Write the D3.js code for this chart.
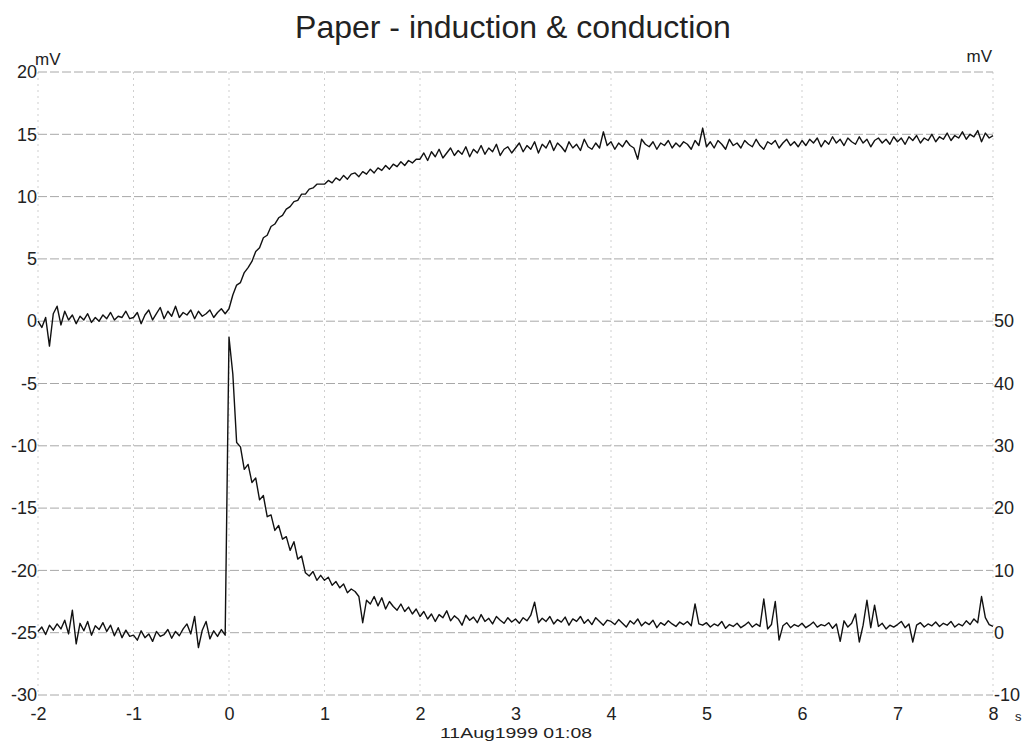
<!DOCTYPE html>
<html>
<head>
<meta charset="utf-8">
<script src="https://cdn.jsdelivr.net/npm/d3@7"></script>
<style>
  body { margin: 0; background: #fff; }
  svg { display: block; font-family: "Liberation Sans", Arial, sans-serif; }
</style>
</head>
<body>
<div id="app"></div>
<script>
const width = 1026;
const height = 745;

const title = "Paper - induction & conduction";
const stamp = "11Aug1999  01:08";

// sampling of the traces
const tStart = -2;
const tStep = 0.04;

const xTicks = [-2, -1, 0, 1, 2, 3, 4, 5, 6, 7, 8];
const leftTicks = [20, 15, 10, 5, 0, -5, -10, -15, -20, -25, -30];
const rightTicks = [50, 40, 30, 20, 10, 0, -10];

// upper trace, left axis (mV), one row per second
const upperTrace = [
  0.0, -0.5, 0.3, -2.0, 0.6, 1.2, -0.3, 0.8, 0.1, 0.5, -0.2, 0.4, 0.1, 0.6, -0.1, 0.3, 0.0, 0.5, 0.2, 0.7, 0.1, 0.4, 0.3, 0.8, 0.2,
  0.3, 0.7, -0.2, 0.5, 0.9, 0.1, 0.6, 1.1, 0.2, 0.8, 0.4, 1.2, 0.3, 0.7, 0.5, 0.9, 0.2, 0.8, 0.4, 0.6, 0.9, 0.3, 0.7, 1.0, 0.6,
  1.0, 2.1, 2.9, 3.1, 3.9, 4.3, 4.8, 5.6, 5.9, 6.7, 6.9, 7.6, 7.8, 8.3, 8.5, 9.0, 9.2, 9.6, 9.7, 10.2, 10.2, 10.6, 10.7, 11.0, 11.0,
  11.0, 11.3, 11.1, 11.5, 11.3, 11.7, 11.4, 11.8, 11.9, 11.6, 12.0, 11.8, 12.2, 11.9, 12.3, 12.1, 12.5, 12.2, 12.6, 12.4, 12.8, 12.5, 12.9, 12.7, 13.0,
  13.0, 13.5, 12.9, 13.6, 13.2, 13.8, 13.1, 13.5, 13.9, 13.3, 13.7, 13.4, 14.0, 13.2, 13.8, 13.5, 14.1, 13.4, 13.9, 13.6, 14.2, 13.3, 13.8, 14.0, 13.5,
  13.9, 14.3, 13.6, 14.1, 13.8, 14.4, 13.5, 14.2, 13.9, 14.5, 13.7, 14.3, 14.0, 13.6, 14.4, 13.9, 14.2, 13.7, 14.6, 14.0, 13.8, 14.3, 13.9, 15.2, 14.1,
  14.4, 13.8, 14.3, 14.0, 14.5, 14.1, 13.9, 13.0, 14.6, 14.2, 14.0, 14.4, 13.8, 14.3, 14.1, 14.5, 13.9, 14.3, 14.0, 14.4, 14.2, 13.8, 14.5, 14.1, 15.5,
  14.0, 14.4, 13.9, 14.5, 14.2, 13.8, 14.6, 14.1, 14.3, 13.9, 14.5, 14.2, 14.0, 14.6, 14.1, 13.8, 14.4, 14.2, 14.5, 13.9, 14.3, 14.6, 14.1, 14.4, 14.0,
  14.5, 14.1, 14.6, 14.3, 14.7, 14.0, 14.5, 14.2, 14.8, 14.3, 14.6, 14.1, 14.7, 14.4, 14.2, 14.8, 14.3, 14.6, 14.0, 14.5, 14.7, 14.3, 14.6, 14.2, 14.8,
  14.4, 14.7, 14.2, 14.8, 14.5, 14.9, 14.3, 14.7, 14.5, 15.0, 14.4, 14.8, 14.6, 15.1, 14.5, 14.9, 14.7, 15.2, 14.6, 15.0, 14.8, 15.3, 14.4, 15.1, 14.7,
  14.9
];

// lower trace, right axis (mV)
const lowerTrace = [
  0.2, 0.9, -0.3, 1.2, 0.4, 1.4, 0.6, 2.0, -0.2, 3.6, -1.8, 1.5, 0.3, 1.8, -0.4, 1.1, 0.5, 1.6, 0.2, 1.2, -0.5, 0.8, -0.8, 0.4, -0.6,
  -0.4, -1.2, 0.3, -0.8, -0.2, -1.4, 0.2, -0.6, -0.3, 0.5, -0.9, 0.2, -0.5, 0.6, 1.4, -0.2, 2.6, -2.4, 0.4, 1.8, -1.0, 0.3, -0.6, 0.5, -0.4,
  47.4, 41.5, 30.5, 29.8, 26.2, 27.0, 24.1, 24.8, 21.3, 22.0, 18.6, 18.9, 16.4, 17.2, 15.0, 15.4, 13.2, 14.6, 11.8, 12.3, 9.6, 9.1, 9.8, 8.4, 9.2,
  8.4, 8.9, 7.6, 8.2, 7.2, 7.8, 6.4, 7.0, 6.6, 5.8, 1.6, 5.2, 4.6, 5.8, 4.3, 5.6, 3.8, 5.0, 4.2, 3.6, 4.6, 3.4, 4.1, 3.0, 3.8,
  2.6, 3.4, 2.2, 3.0, 1.8, 2.9, 2.4, 3.5, 1.9, 2.7, 2.2, 1.2, 2.8, 2.0, 2.5, 1.6, 2.9, 1.8, 2.3, 1.4, 2.6, 2.0, 1.5, 2.4, 1.7,
  2.2, 1.5, 2.4, 1.9, 2.8, 4.9, 1.6, 2.3, 1.8, 2.6, 1.4, 2.1, 1.7, 2.5, 1.2, 2.2, 1.8, 2.6, 1.5, 2.1, 1.3, 2.4, 1.8, 1.2, 2.0,
  1.8, 1.3, 2.1, 1.5, 0.9, 1.9, 1.4, 2.2, 1.1, 1.7, 1.3, 2.0, 0.8, 1.6, 1.2, 1.9, 1.4, 1.0, 1.7, 1.3, 1.8, 1.1, 4.6, 1.4, 1.2,
  1.6, 0.9, 1.4, 1.1, 1.8, 0.7, 1.3, 1.0, 1.5, 0.8, 1.2, 1.7, 0.9, 1.4, 1.0, 5.4, 0.6, 1.3, 5.0, -1.2, 1.1, 1.6, 0.8, 1.3, 1.0,
  1.5, 0.8, 1.2, 1.7, 0.9, 1.3, 1.1, 1.6, 0.7, 1.4, -1.4, 1.9, 0.9, 1.5, 3.0, -1.5, 1.2, 5.2, 0.8, 4.4, 1.0, 1.5, 0.6, 1.2, 0.9,
  1.3, 1.8, 0.8, 1.4, -1.5, 1.2, 1.6, 0.9, 1.4, 1.1, 1.7, 1.0, 1.5, 1.2, 1.8, 0.9, 1.4, 1.1, 1.9, 1.3, 2.2, 1.6, 5.8, 2.4, 1.3,
  1.0
];

const svg = d3.select("#app").append("svg")
  .attr("width", width)
  .attr("height", height);

const x = d3.scaleLinear().domain([-2, 8]).range([38, 993]);
const y = d3.scaleLinear().domain([-30, 20]).range([695, 72]);
const yR = d3.scaleLinear().domain([-10, 50]).range([695, 321]);

// plain hyphen for negatives, like the original print
const fmt = d => String(d);

// grid
svg.append("g")
  .selectAll("line")
  .data(xTicks)
  .join("line")
  .attr("x1", d => x(d)).attr("x2", d => x(d))
  .attr("y1", y(20)).attr("y2", y(-30))
  .attr("stroke", "#cfcfcf")
  .attr("stroke-width", 1)
  .attr("stroke-dasharray", "2,4");

svg.append("g")
  .selectAll("line")
  .data(leftTicks)
  .join("line")
  .attr("x1", x(-2)).attr("x2", x(8))
  .attr("y1", d => y(d)).attr("y2", d => y(d))
  .attr("stroke", "#a8a8a8")
  .attr("stroke-width", 1)
  .attr("stroke-dasharray", "9,3");

// axes (labels only)
const styleAxis = g => {
  g.select(".domain").remove();
  g.selectAll("text").attr("fill", "#222").style("font-size", "18px");
};

svg.append("g")
  .attr("transform", `translate(${x(-2)},0)`)
  .call(d3.axisLeft(y).tickValues(leftTicks).tickFormat(fmt).tickSize(0).tickPadding(1))
  .call(styleAxis);

svg.append("g")
  .attr("transform", `translate(${x(8)},0)`)
  .call(d3.axisRight(yR).tickValues(rightTicks).tickFormat(fmt).tickSize(0).tickPadding(1))
  .call(styleAxis);

svg.append("g")
  .attr("transform", `translate(0,${y(-30)})`)
  .call(d3.axisBottom(x).tickValues(xTicks).tickFormat(fmt).tickSize(0).tickPadding(12))
  .call(styleAxis);

// traces
const tOf = i => tStart + i * tStep;

const lineLeft = d3.line()
  .x((d, i) => x(tOf(i)))
  .y(d => y(d));

const lineRight = d3.line()
  .x((d, i) => x(tOf(i)))
  .y(d => yR(d));

svg.append("path")
  .datum(upperTrace)
  .attr("d", lineLeft)
  .attr("fill", "none")
  .attr("stroke", "#111")
  .attr("stroke-width", 1.4)
  .attr("stroke-linejoin", "round");

svg.append("path")
  .datum(lowerTrace)
  .attr("d", lineRight)
  .attr("fill", "none")
  .attr("stroke", "#111")
  .attr("stroke-width", 1.4)
  .attr("stroke-linejoin", "round");

// texts
svg.append("text")
  .attr("x", 513).attr("y", 38)
  .attr("text-anchor", "middle")
  .attr("fill", "#222")
  .style("font-size", "32px")
  .text(title);

svg.append("text")
  .attr("x", 35).attr("y", 65)
  .attr("fill", "#222")
  .style("font-size", "17px")
  .text("mV");

svg.append("text")
  .attr("x", 992).attr("y", 62)
  .attr("text-anchor", "end")
  .attr("fill", "#222")
  .style("font-size", "17px")
  .text("mV");

svg.append("text")
  .attr("x", 1015).attr("y", 721)
  .attr("fill", "#222")
  .style("font-size", "13px")
  .text("s");

svg.append("text")
  .attr("x", 440).attr("y", 738)
  .attr("fill", "#222")
  .attr("textLength", 152)
  .attr("lengthAdjust", "spacingAndGlyphs")
  .style("font-size", "15px")
  .text(stamp);
</script>
</body>
</html>
